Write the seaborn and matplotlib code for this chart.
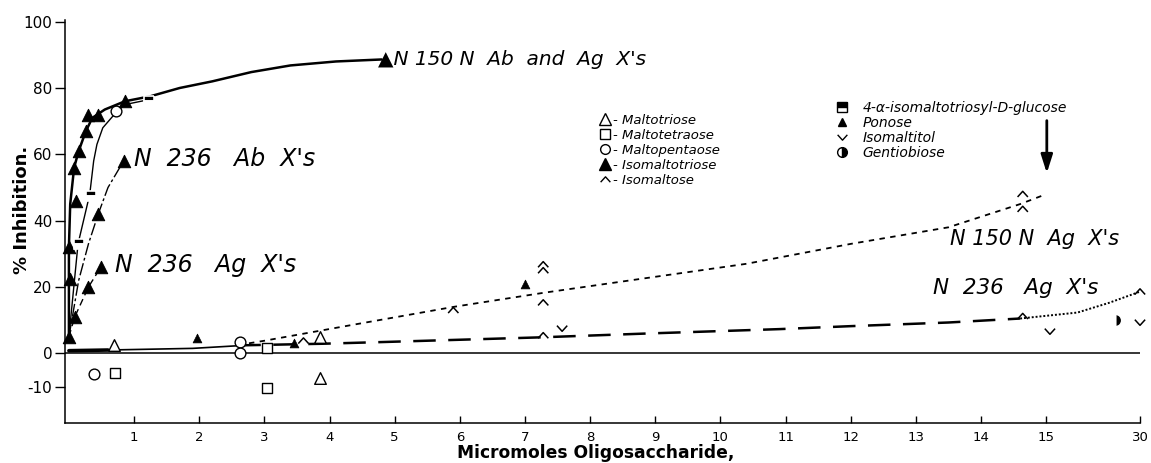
import numpy as np
import pandas as pd
import matplotlib
matplotlib.use("Agg")
import matplotlib.pyplot as plt
from matplotlib.lines import Line2D
import seaborn as sns

# x axis is broken after 15: the 15-30 stretch is squeezed
BREAK = 15.0
SQUEEZE = 0.096

# --- points (x = micromoles, y = % inhibition) ---
maltotriose_x = [0.69, 3.86, 3.86]
maltotriose_y = [2.4, 4.8, -7.5]
maltotetraose_x = [0.71, 3.04, 3.04]
maltotetraose_y = [-6.0, 1.5, -10.5]
maltopentaose_x = [0.38, 2.63, 2.63, 0.72]
maltopentaose_y = [-6.3, 3.4, 0.2, 73.0]
isomaltotriose_x = [0.0, 0.09, 0.30, 0.49, 0.02, 0.0, 0.11, 0.08, 0.15,
                    0.26, 0.29, 0.45, 0.86, 0.45, 0.84]
isomaltotriose_y = [5.0, 11.0, 20.0, 26.0, 22.5, 32.0, 46.0, 56.0, 61.0,
                    67.0, 72.0, 72.0, 76.0, 42.0, 58.0]
isomaltose_x = [3.6, 5.9, 7.28, 7.28, 7.28, 7.28, 14.64, 14.64, 14.64, 30.0]
isomaltose_y = [3.8, 13.0, 26.8, 25.0, 15.3, 5.4, 48.0, 43.5, 11.2, 18.6]
isomaltotriosyl_x = [0.15, 0.34, 1.23]
isomaltotriosyl_y = [33.0, 47.5, 76.0]
ponose_x = [1.97, 3.46, 7.0]
ponose_y = [4.5, 3.0, 21.0]
isomaltitol_x = [7.57, 15.6, 30.0]
isomaltitol_y = [7.5, 6.6, 9.3]
gentiobiose_x = [26.0]
gentiobiose_y = [10.0]

# --- hand-drawn curves ---
n150n_all_x = [0.0, 0.0, 0.02, 0.08, 0.15, 0.26, 0.36, 0.55, 0.86, 1.25, 1.7,
               2.2, 2.8, 3.4, 4.1, 4.8]
n150n_all_y = [5.0, 32.0, 45.0, 56.0, 61.0, 67.0, 71.0, 73.5, 76.0, 77.5, 80.0,
               82.0, 84.8, 86.8, 88.0, 88.6]
square_curve_x = [0.0, 0.14, 0.32, 0.38, 0.43, 0.52, 0.74, 0.86, 1.23]
square_curve_y = [5.0, 33.0, 48.0, 58.0, 63.0, 68.0, 73.0, 75.0, 76.5]
n236_ab_x = [0.0, 0.15, 0.30, 0.45, 0.60, 0.84]
n236_ab_y = [5.0, 22.0, 33.0, 42.0, 50.0, 58.0]
n236_ag_steep_x = [0.0, 0.09, 0.30, 0.49]
n236_ag_steep_y = [5.0, 11.0, 20.0, 26.0]
base_thick_x = [0.0, 0.6]
base_thick_y = [0.8, 1.0]
base_thin_x = [0.6, 1.9, 2.6]
base_thin_y = [1.0, 1.5, 2.3]
n150n_ag_x = [2.6, 3.0, 4.3, 5.9, 7.3, 8.9, 10.4, 12.0, 13.5, 14.6, 15.0]
n150n_ag_y = [2.5, 3.8, 8.4, 14.0, 18.3, 22.8, 27.0, 33.0, 38.0, 45.0, 48.0]
n236_ag_x = [2.6, 3.9, 4.8, 7.2, 8.9, 10.9, 12.0, 13.5, 14.6]
n236_ag_y = [2.4, 2.9, 3.4, 4.8, 6.0, 7.3, 8.2, 9.3, 10.5]
n236_ag_tail_x = [14.6, 20.0, 25.0, 30.0]
n236_ag_tail_y = [10.5, 12.3, 15.2, 18.6]

x_ticks = [1, 2, 3, 4, 5, 6, 7, 8, 9, 10, 11, 12, 13, 14, 15, 30]
y_ticks = [-10, 0, 20, 40, 60, 80, 100]

CARET_UP = [(-1, -0.55), (0, 0.55), (1, -0.55)]
CARET_DOWN = [(-1, 0.55), (0, -0.55), (1, 0.55)]


def fwd(x):
    x = np.asarray(x, dtype=float)
    return np.where(x <= BREAK, x, BREAK + (x - BREAK) * SQUEEZE)


def inv(x):
    x = np.asarray(x, dtype=float)
    return np.where(x <= BREAK, x, BREAK + (x - BREAK) / SQUEEZE)


def curve(ax, xs, ys, **kw):
    df = pd.DataFrame({"x": xs, "y": ys})
    sns.lineplot(data=df, x="x", y="y", estimator=None, sort=False,
                 color="black", ax=ax, **kw)


def points(ax, xs, ys, **kw):
    df = pd.DataFrame({"x": xs, "y": ys})
    sns.scatterplot(data=df, x="x", y="y", ax=ax, zorder=4, clip_on=False, **kw)


sns.set_style("ticks")
plt.rcParams["font.family"] = ["DejaVu Sans"]
plt.rcParams.update({"text.color": "black", "axes.labelcolor": "black",
                     "xtick.color": "black", "ytick.color": "black",
                     "axes.edgecolor": "black"})

W, H = 1151, 463
fig = plt.figure(figsize=(W / 100, H / 100), dpi=100)
ax = fig.add_axes([65 / W, 1 - 423 / H, (1140 - 65) / W, (423 - 20) / H])
ax.set_xscale("function", functions=(fwd, inv))

# curves
curve(ax, n150n_all_x, n150n_all_y, linewidth=1.8)
curve(ax, square_curve_x, square_curve_y, linewidth=1.0)
curve(ax, n236_ab_x, n236_ab_y, linewidth=1.0, linestyle=(0, (9, 2, 2, 2)))
curve(ax, n236_ag_steep_x, n236_ag_steep_y, linewidth=1.0, linestyle=(0, (5, 3)))
curve(ax, base_thick_x, base_thick_y, linewidth=2.6)
curve(ax, base_thin_x, base_thin_y, linewidth=1.2)
curve(ax, n150n_ag_x, n150n_ag_y, linewidth=1.3, linestyle=(0, (3, 3)))
curve(ax, n236_ag_x, n236_ag_y, linewidth=1.8, linestyle=(0, (9, 5)))
curve(ax, n236_ag_tail_x, n236_ag_tail_y, linewidth=1.4, linestyle=(0, (1, 1)))

ax.axhline(0, color="black", linewidth=1.1, zorder=1)

# points
points(ax, maltotriose_x, maltotriose_y, marker="^", s=70, color="white",
       edgecolor="black", linewidth=1.0)
points(ax, maltotetraose_x, maltotetraose_y, marker="s", s=50, color="white",
       edgecolor="black", linewidth=1.0)
points(ax, maltopentaose_x, maltopentaose_y, marker="o", s=60, color="white",
       edgecolor="black", linewidth=1.0)
points(ax, isomaltotriose_x, isomaltotriose_y, marker="^", s=80, color="black",
       edgecolor="black")
points(ax, ponose_x, ponose_y, marker="^", s=40, color="black", edgecolor="black")
points(ax, isomaltose_x, isomaltose_y, marker=CARET_UP, s=55, color="black",
       facecolor="none", edgecolor="black", linewidth=1.1)
points(ax, isomaltitol_x, isomaltitol_y, marker=CARET_DOWN, s=55, color="black",
       facecolor="none", edgecolor="black", linewidth=1.1)
sns.lineplot(x=isomaltotriosyl_x, y=isomaltotriosyl_y, estimator=None, sort=False,
             linestyle="none", marker="s", markersize=7, fillstyle="top",
             color="black", markerfacecoloralt="white", markeredgewidth=1.2,
             ax=ax, zorder=4)
sns.lineplot(x=gentiobiose_x, y=gentiobiose_y, estimator=None, sort=False,
             linestyle="none", marker="o", markersize=9, fillstyle="right",
             color="black", markerfacecoloralt="white", markeredgewidth=1.2,
             ax=ax, zorder=4)

# axes
ax.set_xlim(-0.06, 30)
ax.set_ylim(-21, 100.5)
ax.set_xticks(x_ticks)
ax.set_xticklabels([str(t) for t in x_ticks])
ax.set_yticks(y_ticks)
ax.set_yticklabels([str(t) for t in y_ticks])
ax.xaxis.set_minor_locator(matplotlib.ticker.NullLocator())
ax.tick_params(axis="x", direction="in", length=5, width=1, pad=6, labelsize=9.5)
ax.tick_params(axis="y", direction="out", length=7, width=1, pad=2, labelsize=11)
for side in ("top", "right"):
    ax.spines[side].set_visible(False)
ax.spines["left"].set_linewidth(1.1)
ax.spines["bottom"].set_linewidth(1.1)
ax.set_xlabel("Micromoles Oligosaccharide,", fontsize=12.3, fontweight="bold")
ax.set_ylabel("% Inhibition.", fontsize=13, fontweight="bold")
ax.xaxis.set_label_coords((596 - 65) / (1140 - 65), -(444 - 423) / (423 - 20))
ax.yaxis.set_label_coords((31 - 65) / (1140 - 65), (423 - 210) / (423 - 20))

# curve labels
ax.text(4.75, 88.6, "\u25b2N 150 N  Ab  and  Ag  X's", fontsize=14.5,
        style="italic", va="center")
ax.text(1.0, 58.5, "N  236   Ab  X's", fontsize=17, style="italic", va="center")
ax.text(0.7, 26.5, "N  236   Ag  X's", fontsize=17, style="italic", va="center")
ax.text(13.53, 34.5, "N 150 N  Ag  X's", fontsize=15, style="italic", va="center")
ax.text(13.26, 19.8, "N  236   Ag  X's", fontsize=15.5, style="italic",
        va="center")
ax.annotate("", xy=(15.1, 53.5), xytext=(15.1, 71),
            arrowprops=dict(arrowstyle="-|>,head_width=0.35,head_length=1.1",
                            color="black", linewidth=2))

# legends
open_kw = dict(color="black", linestyle="none", markerfacecolor="white",
               markeredgewidth=1.0)
h1 = [Line2D([], [], marker="^", markersize=8, **open_kw),
      Line2D([], [], marker="s", markersize=7, **open_kw),
      Line2D([], [], marker="o", markersize=7, **open_kw),
      Line2D([], [], marker="^", markersize=8, color="black", linestyle="none"),
      Line2D([], [], marker=CARET_UP, markersize=7, color="black",
             linestyle="none", markerfacecolor="none", markeredgewidth=1.0)]
l1 = ["- Maltotriose", "- Maltotetraose", "- Maltopentaose",
      "- Isomaltotriose", "- Isomaltose"]
fig.legend(h1, l1, loc="upper left", bbox_to_anchor=(592 / W, 1 - 107 / H),
           frameon=False, handlelength=1.0, handletextpad=0.1,
           borderpad=0, labelspacing=0.15,
           prop=dict(size=9.5, style="italic"))
h2 = [Line2D([], [], marker="s", markersize=7, color="black", linestyle="none",
             fillstyle="top", markerfacecoloralt="white"),
      Line2D([], [], marker="^", markersize=6, color="black", linestyle="none"),
      Line2D([], [], marker=CARET_DOWN, markersize=7, color="black",
             linestyle="none", markerfacecolor="none", markeredgewidth=1.0),
      Line2D([], [], marker="o", markersize=7, color="black", linestyle="none",
             fillstyle="right", markerfacecoloralt="white")]
l2 = ["4-\u03b1-isomaltotriosyl-D-glucose", "Ponose", "Isomaltitol",
      "Gentiobiose"]
fig.legend(h2, l2, loc="upper left", bbox_to_anchor=(828 / W, 1 - 94 / H),
           frameon=False, handlelength=1.0, handletextpad=1.0,
           borderpad=0, labelspacing=0.08,
           prop=dict(size=10, style="italic"))

fig.savefig("out.png", dpi=100)
